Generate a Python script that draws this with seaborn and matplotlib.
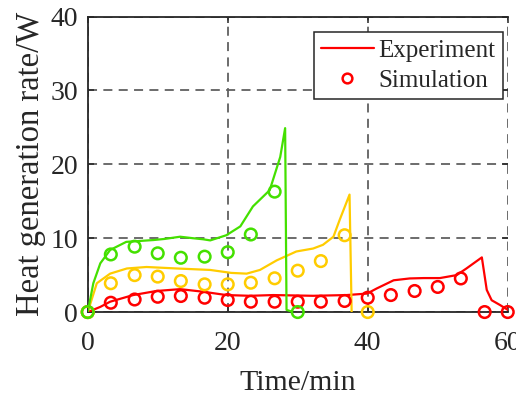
import matplotlib
matplotlib.use("Agg")
import matplotlib.pyplot as plt
import seaborn as sns
import pandas as pd
from matplotlib.lines import Line2D

# Measured heat generation (W) over time (min) for three discharge cases
green_exp_t = [0, 0.8, 1.8, 3.2, 5.5, 9.4, 11.0, 13.2, 15.0, 16.5, 17.5, 19.8, 21.8, 23.6, 26.0, 27.5, 28.2, 28.4, 29.0]
green_exp_q = [0, 3.9, 6.6, 8.4, 9.5, 9.75, 9.9, 10.2, 10.0, 9.85, 9.7, 10.4, 11.6, 14.3, 16.5, 21.0, 24.9, 0.3, 0.1]

yellow_exp_t = [0, 1.3, 3.2, 5.6, 8.4, 12.7, 17.5, 20.5, 22.7, 24.6, 27.0, 29.8, 32.2, 33.6, 35.1, 36.0, 37.4, 37.7]
yellow_exp_q = [0, 3.9, 5.2, 5.9, 6.1, 5.9, 5.7, 5.3, 5.2, 5.7, 7.0, 8.2, 8.6, 9.1, 10.2, 12.5, 15.9, 0]

red_exp_t = [0, 1.8, 3.2, 6.5, 9.8, 13.2, 16.5, 19.8, 23.2, 26.5, 32.2, 37.0, 39.9, 41.3, 43.7, 46.0, 48.0,
             50.3, 52.7, 54.1, 56.3, 57.0, 57.7, 58.9, 60.0]
red_exp_q = [0, 0.7, 1.4, 2.3, 2.85, 3.1, 2.75, 2.3, 2.2, 2.3, 2.2, 2.3, 2.5, 3.2, 4.3, 4.55, 4.6,
             4.6, 5.0, 5.9, 7.4, 3.0, 1.6, 0.95, 0.3]

# Simulated heat generation, sampled every 200 s
sim_t = [0, 3.3, 6.7, 10, 13.3, 16.7, 20, 23.3, 26.7, 30, 33.3, 36.7, 40, 43.3, 46.7, 50, 53.3, 56.7, 60]
green_sim_q = [0, 7.8, 8.85, 7.95, 7.35, 7.5, 8.1, 10.5, 16.3, 0]
yellow_sim_q = [0, 3.9, 5.0, 4.8, 4.2, 3.75, 3.75, 3.97, 4.57, 5.6, 6.9, 10.4, 0]
red_sim_q = [0, 1.26, 1.7, 2.07, 2.17, 1.94, 1.63, 1.4, 1.4, 1.4, 1.4, 1.5, 1.94, 2.3, 2.85, 3.4, 4.55, 0, 0]

colors = {"red": "#ff0000", "yellow": "#ffcc00", "green": "#44e000"}

exp = pd.concat([
    pd.DataFrame({"t": red_exp_t, "q": red_exp_q, "case": "red"}),
    pd.DataFrame({"t": yellow_exp_t, "q": yellow_exp_q, "case": "yellow"}),
    pd.DataFrame({"t": green_exp_t, "q": green_exp_q, "case": "green"}),
], ignore_index=True)

sim = pd.concat([
    pd.DataFrame({"t": sim_t[:len(red_sim_q)], "q": red_sim_q, "case": "red"}),
    pd.DataFrame({"t": sim_t[:len(yellow_sim_q)], "q": yellow_sim_q, "case": "yellow"}),
    pd.DataFrame({"t": sim_t[:len(green_sim_q)], "q": green_sim_q, "case": "green"}),
], ignore_index=True)

sns.set_theme(style="ticks")
plt.rcParams["font.family"] = ["Liberation Serif", "DejaVu Serif"]

ink = "#262626"
fig = plt.figure(figsize=(5.16, 3.95), dpi=100)
ax = fig.add_axes([0.170, 0.210, 0.814, 0.748])

sns.lineplot(data=exp, x="t", y="q", hue="case", palette=colors, sort=False,
             estimator=None, linewidth=1.6, legend=False, ax=ax, zorder=3)

for case in ["red", "yellow", "green"]:
    sub = sim[sim["case"] == case]
    sns.scatterplot(x=sub["t"], y=sub["q"], marker="o", s=70, facecolors="none",
                    edgecolor=colors[case], linewidth=1.8, legend=False, ax=ax,
                    zorder=4, clip_on=False)

ax.set_xlim(0, 60)
ax.set_ylim(0, 40)
ax.set_xticks([0, 20, 40, 60])
ax.set_yticks([0, 10, 20, 30, 40])
ax.grid(True, color="#606060", linestyle=(0, (5, 3.5)), linewidth=1.3)
ax.set_axisbelow(True)

for side in ["left", "bottom", "top"]:
    ax.spines[side].set_color(ink)
    ax.spines[side].set_linewidth(1.3)
ax.spines["right"].set_visible(False)

ax.tick_params(direction="in", length=4, width=1.1, color=ink, labelcolor=ink,
               labelsize=20, top=True, right=True)
ax.tick_params(axis="x", pad=14)
ax.tick_params(axis="y", pad=7)

ax.set_xlabel("Time/min", fontsize=21.5, color=ink, labelpad=10)
ax.set_ylabel("Heat generation rate/W", fontsize=23.5, color=ink, labelpad=3)

handles = [
    Line2D([0], [0], color=colors["red"], linewidth=1.6),
    Line2D([0], [0], color=colors["red"], marker="o", linestyle="none",
           markersize=7, markerfacecolor="none", markeredgewidth=1.8),
]
leg = ax.legend(handles, ["Experiment", "Simulation"], loc="upper right",
                bbox_to_anchor=(0.989, 0.948), fontsize=18, frameon=True,
                fancybox=False, framealpha=1, edgecolor=ink, borderpad=0.3,
                handlelength=2.1, handletextpad=0.2, labelspacing=0.3,
                borderaxespad=0)
leg.get_frame().set_linewidth(1.1)
for t in leg.get_texts():
    t.set_color(ink)

fig.savefig("out.png", dpi=100)
